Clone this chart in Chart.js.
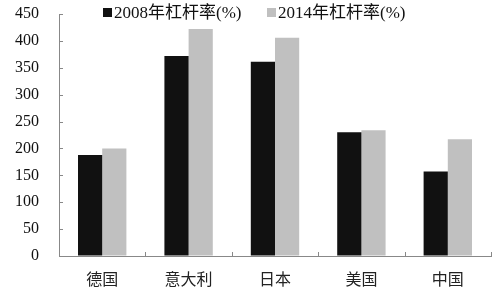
<!DOCTYPE html>
<html>
<head>
<meta charset="utf-8">
<script src="https://cdn.jsdelivr.net/npm/chart.js@4.4.1/dist/chart.umd.min.js"></script>
<style>
    body { margin: 0; background: #fff; }
    #wrap { position: relative; width: 500px; height: 291px; }
    .legend { position: absolute; top: -2px; font: 17px 'Liberation Serif', 'Noto Sans CJK SC', serif; color: #111; white-space: nowrap; }
    .legend span { display: inline-block; width: 9px; height: 9px; margin-right: 2px; vertical-align: 1px; }
</style>
</head>
<body>
<div id="wrap">
    <canvas id="barChart" width="500" height="291"></canvas>
    <div class="legend" style="left:103px"><span style="background:#111"></span>2008年杠杆率(%)</div>
    <div class="legend" style="left:267px"><span style="background:#c0c0c0"></span>2014年杠杆率(%)</div>
</div>
<script>
const categories = ['德国', '意大利', '日本', '美国', '中国'];
const lev2008 = [188, 372, 361, 230, 157];
const lev2014 = [200, 422, 406, 234, 217];
const seriesNames = ['2008年杠杆率(%)', '2014年杠杆率(%)'];

const fontFamily = "'Liberation Serif', 'Noto Sans CJK SC', serif";

// small inward tick marks, like the original
const innerTicks = {
    id: 'innerTicks',
    afterDraw(chart) {
        const ctx = chart.ctx;
        const x = chart.scales.x, y = chart.scales.y;
        ctx.save();
        ctx.strokeStyle = '#888';
        ctx.lineWidth = 1;
        ctx.beginPath();
        y.ticks.forEach(t => {
            const py = Math.round(y.getPixelForValue(t.value)) + 0.5;
            ctx.moveTo(x.left, py);
            ctx.lineTo(x.left + 4, py);
        });
        const step = (x.right - x.left) / categories.length;
        for (let i = 1; i <= categories.length; i++) {
            const px = Math.round(x.left + step * i) + 0.5;
            ctx.moveTo(px, y.bottom);
            ctx.lineTo(px, y.bottom - 4);
        }
        ctx.stroke();
        ctx.restore();
    }
};

new Chart(document.getElementById('barChart').getContext('2d'), {
    type: 'bar',
    data: {
        labels: categories,
        datasets: [
            { label: seriesNames[0], data: lev2008, backgroundColor: '#111111' },
            { label: seriesNames[1], data: lev2014, backgroundColor: '#c0c0c0' }
        ]
    },
    options: {
        responsive: false,
        animation: false,
        layout: { padding: { top: 14, right: 9, left: 0, bottom: 0 } },
        datasets: { bar: { categoryPercentage: 0.56, barPercentage: 1.0 } },
        plugins: { legend: { display: false }, tooltip: { enabled: false } },
        scales: {
            x: {
                grid: { display: false, drawTicks: false },
                border: { display: true, color: '#888', width: 1 },
                ticks: { color: '#222', padding: 15, font: { family: fontFamily, size: 16 } },
                afterFit(scale) { scale.height = 35; }
            },
            y: {
                min: 0,
                max: 450,
                grid: { display: true, drawOnChartArea: false, drawTicks: true, tickLength: 20, tickColor: 'rgba(0,0,0,0)' },
                border: { display: true, color: '#888', width: 1 },
                ticks: { stepSize: 50, color: '#111', padding: 0, font: { family: fontFamily, size: 16 } },
                afterFit(scale) { scale.width = 59; }
            }
        }
    },
    plugins: [innerTicks]
});
</script>
</body>
</html>
